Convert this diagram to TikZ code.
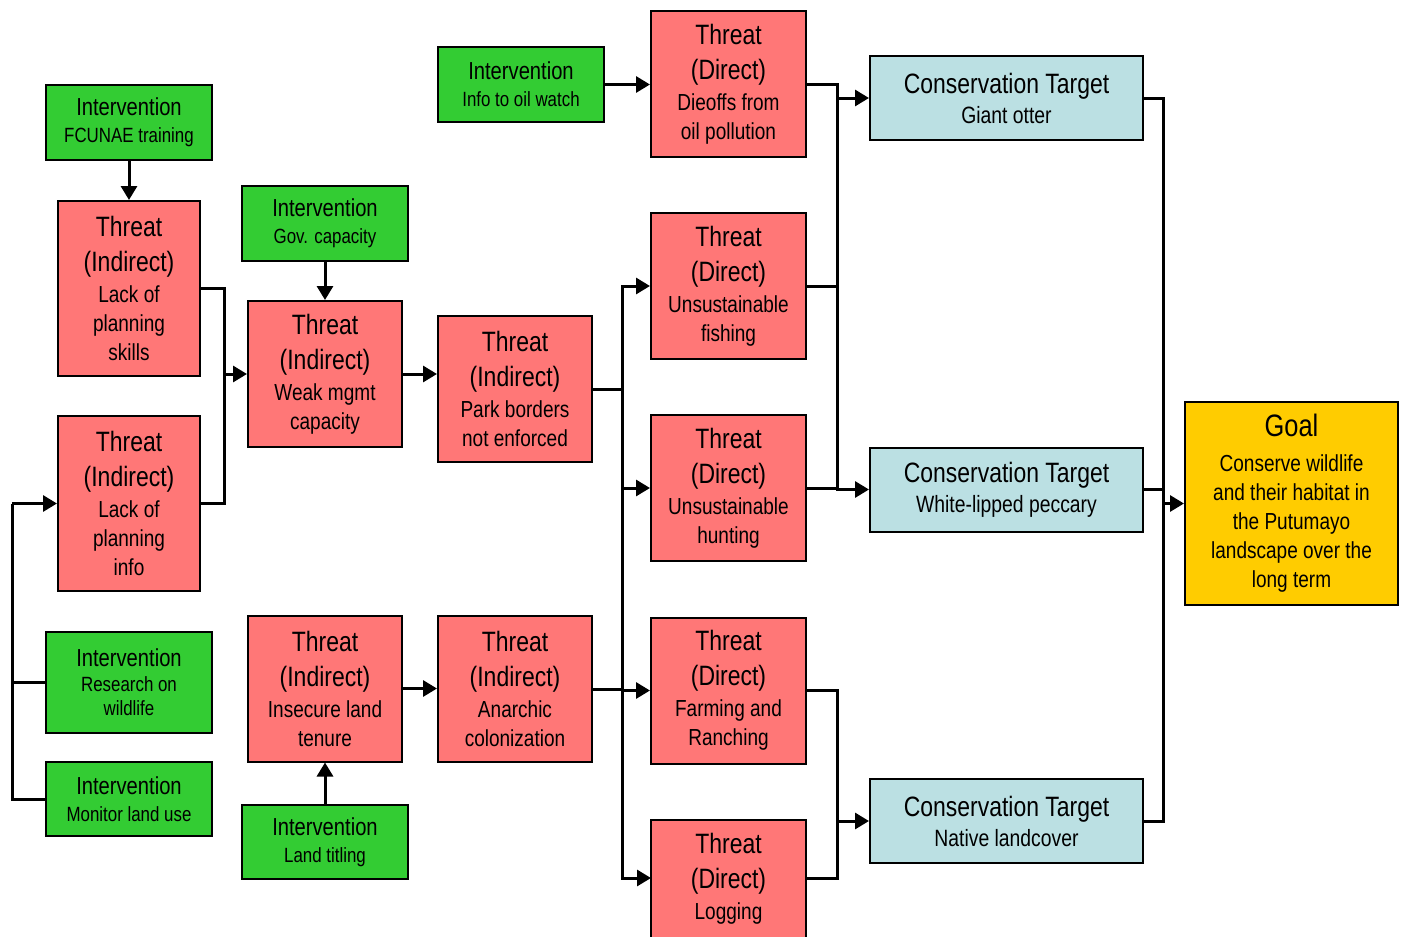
\documentclass[tikz,border=0pt]{standalone}
\usepackage{fontspec}
\setmainfont{Liberation Sans}[FakeStretch=0.82]
\usetikzlibrary{arrows.meta,calc}
\definecolor{thrred}{RGB}{255,119,119}
\definecolor{intgreen}{RGB}{51,204,51}
\definecolor{ctblue}{RGB}{187,224,227}
\definecolor{goalyel}{RGB}{255,204,0}
\newcommand\BigT[1]{{\fontsize{14}{17}\selectfont #1}}
\newcommand\IntT[1]{{\fontsize{12.3}{14}\selectfont #1}}
\begin{document}
\begin{tikzpicture}[x=0.5pt,y=-0.5pt,
  box/.style={draw=black,line width=1pt,inner sep=0pt,align=center,text=black},
  thr/.style={box,fill=thrred,font=\fontsize{11.6}{14.5}\selectfont},
  intv/.style={box,fill=intgreen,minimum width=83pt,font=\fontsize{10.3}{13.5}\selectfont},
  ctg/.style={box,fill=ctblue,minimum width=136.5pt,minimum height=42pt,font=\fontsize{11.8}{14}\selectfont},
  goalbox/.style={box,fill=goalyel,minimum width=106.5pt,minimum height=101.5pt,font=\fontsize{11.6}{14.5}\selectfont},
  ind/.style={thr,minimum width=77pt,minimum height=73pt},
  dir/.style={thr,minimum width=77.5pt,minimum height=73pt},
  lp/.style={thr,minimum width=71pt,minimum height=87.5pt},
  ln/.style={line width=1.5pt,line join=miter},
  arr/.style={ln,-{Triangle[length=7pt,width=8pt]}}]
\clip (0,0) rectangle (1403,937);
\fill[white] (0,0) rectangle (1403,937);

% interventions
\node[intv,minimum height=37.5pt] (fcu) at (129,122.5) {\IntT{Intervention}\\FCUNAE training};
\node[intv,minimum height=37.5pt] (gov) at (325,223.5) {\IntT{Intervention}\\Gov. capacity};
\node[intv,minimum height=37.5pt] (oil) at (521,84.5) {\IntT{Intervention}\\Info to oil watch};
\node[intv,minimum height=50.5pt] (res) at (129,682.5) {\IntT{Intervention}\\[-1pt]Research on\\[-1.5pt]wildlife};
\node[intv,minimum height=37pt] (mon) at (129,799) {\IntT{Intervention}\\Monitor land use};
\node[intv,minimum height=37pt] (tit) at (325,842) {\IntT{Intervention}\\Land titling};

% indirect threats
\node[lp] (lps) at (129,288.5) {\BigT{Threat}\\[3pt]\BigT{(Indirect)}\\[1pt]Lack of\\planning\\skills};
\node[lp] (lpi) at (129,503.5) {\BigT{Threat}\\[3pt]\BigT{(Indirect)}\\[1pt]Lack of\\planning\\info};
\node[ind] (wm) at (325,374) {\BigT{Threat}\\[3pt]\BigT{(Indirect)}\\[1pt]Weak mgmt\\capacity};
\node[ind] (ins) at (325,688.5) {\BigT{Threat}\\[3pt]\BigT{(Indirect)}\\[1pt]Insecure land\\tenure};
\node[ind] (pb) at (515,389) {\BigT{Threat}\\[3pt]\BigT{(Indirect)}\\[1pt]Park borders\\not enforced};
\node[ind] (an) at (515,689) {\BigT{Threat}\\[3pt]\BigT{(Indirect)}\\[1pt]Anarchic\\colonization};

% direct threats
\node[dir] (die) at (728.5,84) {\BigT{Threat}\\[3pt]\BigT{(Direct)}\\[1pt]Dieoffs from\\oil pollution};
\node[dir] (fish) at (728.5,286) {\BigT{Threat}\\[3pt]\BigT{(Direct)}\\[1pt]Unsustainable\\fishing};
\node[dir] (hunt) at (728.5,488) {\BigT{Threat}\\[3pt]\BigT{(Direct)}\\[1pt]Unsustainable\\hunting};
\node[dir] (farm) at (728.5,690.5) {\BigT{Threat}\\[3pt]\BigT{(Direct)}\\[1pt]Farming and\\Ranching};
\node[dir] (log) at (728.5,893) {\BigT{Threat}\\[3pt]\BigT{(Direct)}\\[1pt]Logging\\\phantom{Logging}};

% conservation targets
\node[ctg] (otter) at (1006.5,98) {\BigT{Conservation Target}\\[1pt]Giant otter};
\node[ctg] (pec) at (1006.5,489.5) {\BigT{Conservation Target}\\[1pt]White-lipped peccary};
\node[ctg] (nat) at (1006.5,821) {\BigT{Conservation Target}\\[1pt]Native landcover};

% goal
\node[goalbox] (goal) at (1291.5,503.5) {{\fontsize{15.5}{18}\selectfont Goal}\\[3pt]Conserve wildlife\\and their habitat in\\the Putumayo\\landscape over the\\long term};

% connectors
\draw[arr] (fcu.south) -- (lps.north);
\draw[arr] (gov.south) -- (wm.north);
\draw[arr] (tit.north) -- (ins.south);

\coordinate (j1) at (224,374);
\draw[ln] (lps.east) -| (j1);
\draw[ln] (lpi.east) -| (j1);
\draw[arr] (j1) -- (wm.west);

\coordinate (j2) at (12,503.5);
\draw[ln] (res.west) -| (j2);
\draw[ln] (mon.west) -| (j2);
\draw[arr] (j2) -- (lpi.west);

\draw[arr] (wm.east) -- (wm.east -| pb.west);
\draw[arr] (ins.east) -- (ins.east -| an.west);
\draw[arr] (oil.east) -- (oil.east -| die.west);

\coordinate (b1) at (622,389);
\coordinate (login) at (651,878);
\draw[ln] (pb.east) -- (b1);
\draw[ln] (an.east) -- (an.east -| b1);
\draw[arr] (b1) |- (fish.west);
\draw[arr] (b1) |- (hunt.west);
\draw[arr] (b1) |- (farm.west);
\draw[arr] (b1) |- (login);

\coordinate (b2) at (837,98);
\coordinate (logout) at (806,878);
\draw[ln] (die.east) -| (b2);
\draw[ln] (fish.east) -| (b2);
\draw[ln] (hunt.east) -| (b2);
\draw[arr] (b2) -- (otter.west);
\draw[arr] (b2) |- (pec.west);

\coordinate (b3) at (837,821);
\draw[ln] (farm.east) -| (b3);
\draw[ln] (logout) -| (b3);
\draw[arr] (b3) -- (nat.west);

\coordinate (b4) at (1163,503.5);
\draw[ln] (otter.east) -| (b4);
\draw[ln] (pec.east) -| (b4);
\draw[ln] (nat.east) -| (b4);
\draw[arr] (b4) -- (goal.west);
\end{tikzpicture}
\end{document}
